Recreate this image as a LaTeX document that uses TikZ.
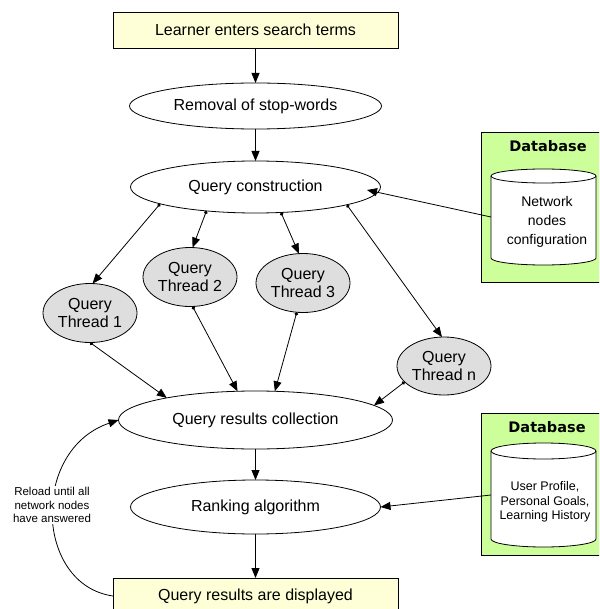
\documentclass[tikz,border=0pt]{standalone}
\usepackage{fontspec}
\setmainfont{Liberation Sans}
\newfontfamily\dbfont{DejaVu Sans}
\usetikzlibrary{shapes.geometric,arrows.meta}

\definecolor{notefill}{RGB}{255,255,215}
\definecolor{threadfill}{RGB}{222,222,222}
\definecolor{dbgreen}{RGB}{204,255,153}

\begin{document}
\begin{tikzpicture}[x=1pt,y=-1pt,
  every node/.style={inner sep=0pt, outer sep=0pt},
  line width=0.8pt,
  stepbox/.style={draw, fill=notefill, minimum width=285pt, minimum height=36pt,
    font=\fontsize{16}{18}\selectfont},
  stage/.style={draw, fill=white, ellipse, font=\fontsize{16}{18}\selectfont},
  thread/.style={draw, fill=threadfill, ellipse, minimum width=94pt, minimum height=59pt,
    align=center, font=\fontsize{16}{18}\selectfont},
  dbpanel/.style={draw, fill=dbgreen, anchor=north west},
  dbtitle/.style={font=\dbfont\bfseries\fontsize{14.5}{16}\selectfont},
  cylbody/.style={minimum width=105pt},
  arr/.style={-{Triangle[length=10pt,width=8pt]}},
  darr/.style={{Circle[length=3.5pt]}-{Triangle[length=10pt,width=8pt]}},
  note/.style={fill=white, align=center, inner sep=1pt, font=\fontsize{11.5}{13.3}\selectfont}]

\useasboundingbox (0,0) rectangle (599,609);
\clip (0,0) rectangle (599,609);

% main pipeline
\node[stepbox] (learner) at (255.5,30) {Learner enters search terms};
\node[stage, minimum width=252pt, minimum height=46pt] (stop) at (255.5,106) {Removal of stop-words};
\node[stage, minimum width=250pt, minimum height=52pt] (qc) at (255.5,187) {Query construction};
\node[thread] (t1) at (90,313) {Query\\Thread 1};
\node[thread] (t2) at (190,277) {Query\\Thread 2};
\node[thread] (t3) at (303,283) {Query\\Thread 3};
\node[thread, minimum height=58pt] (tn) at (444,366) {Query\\Thread n};
\node[stage, minimum width=274pt, minimum height=58pt] (coll) at (255.5,420) {Query results collection};
\node[stage, minimum width=250pt, minimum height=54pt] (rank) at (255.5,507) {Ranking algorithm};
\node[stepbox] (shown) at (255.5,596) {Query results are displayed};

% database panels
\node[dbpanel, minimum width=125pt, minimum height=150pt] (panel1) at (481,132) {};
\node[dbtitle] (title1) at (548,146) {Database};
\node[cylbody, minimum height=82pt] (cyl1) at (543.5,217) {};
\draw[fill=white] (cyl1.north west) -- (cyl1.south west)
  arc[start angle=180, end angle=360, x radius=52.5pt, y radius=7pt]
  -- (cyl1.north east)
  arc[start angle=0, end angle=180, x radius=52.5pt, y radius=7pt] -- cycle;
\draw (cyl1.north west) arc[start angle=180, end angle=360, x radius=52.5pt, y radius=7pt];
\node[align=center, font=\fontsize{14}{19}\selectfont] (cyl1text) at (547,222)
  {Network\\nodes\\configuration};

\node[dbpanel, minimum width=125pt, minimum height=142pt] (panel2) at (481,413) {};
\node[dbtitle] (title2) at (547,427) {Database};
\node[cylbody, minimum height=88pt] (cyl2) at (543.5,495) {};
\draw[fill=white] (cyl2.north west) -- (cyl2.south west)
  arc[start angle=180, end angle=360, x radius=52.5pt, y radius=8pt]
  -- (cyl2.north east)
  arc[start angle=0, end angle=180, x radius=52.5pt, y radius=8pt] -- cycle;
\draw (cyl2.north west) arc[start angle=180, end angle=360, x radius=52.5pt, y radius=8pt];
\node[align=center, font=\fontsize{12.5}{14.5}\selectfont] (cyl2text) at (545,502)
  {User Profile,\\Personal Goals,\\Learning History};

% connectors
\draw[arr] (learner) -- (stop);
\draw[arr] (stop) -- (qc);
\draw[darr] (qc.190.8) -- (t1.85);
\draw[darr] (qc.206) -- (t2.85);
\draw[darr] (qc.315) -- (t3.98);
\draw[darr] (qc.349) -- (tn.94);
\draw[darr] (t1.270) -- (coll.166);
\draw[darr] (t2.275) -- (coll.122);
\draw[darr] (t3.258) -- (coll.56);
\draw[darr] (tn.202) -- (coll.7);
\draw[arr] (coll) -- (rank);
\draw[arr] (rank) -- (shown);
\coordinate (qctip) at (367,190);
\draw[arr] (cyl1.west) -- (qctip);
\draw[arr] (cyl2.west) -- (rank.east);

% reload loop
\draw[arr] (shown.west) .. controls (35,585) and (30,450) .. (coll.west);
\node[note] (reload) at (52,505) {Reload until all\\network nodes\\have answered};
\end{tikzpicture}
\end{document}
